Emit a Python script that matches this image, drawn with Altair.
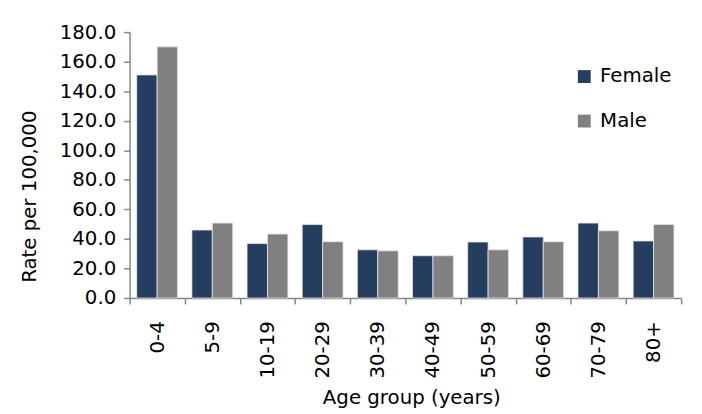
import altair as alt
import pandas as pd

age_groups = ["0-4", "5-9", "10-19", "20-29", "30-39", "40-49", "50-59", "60-69", "70-79", "80+"]
female = [151.0, 46.0, 36.8, 49.7, 32.6, 28.6, 37.9, 41.3, 50.7, 38.6]
male = [170.0, 50.7, 43.3, 38.1, 31.9, 28.6, 32.6, 38.1, 45.5, 49.7]
series = ["Female", "Male"]
colors = ["#253D5E", "#808080"]
y_ticks = [0, 20, 40, 60, 80, 100, 120, 140, 160, 180]

rows = []
for i, g in enumerate(age_groups):
    rows.append({"age": g, "sex": "Female", "rate": female[i]})
    rows.append({"age": g, "sex": "Male", "rate": male[i]})
df = pd.DataFrame(rows)

FONT = "DejaVu Sans"
AX = "#868686"

chart = alt.Chart(df).mark_bar(stroke="#e6e6e6", strokeWidth=0.8).encode(
    x=alt.X("age:N", sort=age_groups,
            scale=alt.Scale(paddingInner=0, paddingOuter=0),
            axis=alt.Axis(title="Age group (years)", labelAngle=-90, labelAlign="right",
                          labelBaseline="middle", labelPadding=17, tickSize=6,
                          tickBand="extent", titleY=107, titleBaseline="alphabetic",
                          titleX=285)),
    xOffset=alt.XOffset("sex:N", sort=series,
                        scale=alt.Scale(paddingOuter=0.35, paddingInner=0)),
    y=alt.Y("rate:Q", scale=alt.Scale(domain=[0, 180], nice=False),
            axis=alt.Axis(title="Rate per 100,000", values=y_ticks, format=".1f",
                          tickSize=6, labelPadding=8, grid=False,
                          titleX=-95, titleY=166, titleBaseline="alphabetic",
                          titleAngle=-90)),
    color=alt.Color("sex:N", sort=series,
                    scale=alt.Scale(domain=series, range=colors),
                    legend=alt.Legend(title=None, orient="none", legendX=450, legendY=35,
                                      symbolType="square", symbolSize=169,
                                      symbolStrokeWidth=0, labelOffset=6,
                                      rowPadding=25, labelFontSize=20, labelFont=FONT,
                                      labelColor="#000000")),
).properties(
    width=558, height=269,
    autosize=alt.AutoSizeParams(type="none"),
    padding={"left": 123, "top": 22, "right": 13, "bottom": 115},
    background="white",
).configure_axis(
    labelFont=FONT, titleFont=FONT, labelFontSize=20, titleFontSize=20,
    labelColor="#000000", titleColor="#000000", titleFontWeight="normal",
    domainColor=AX, tickColor=AX, domainWidth=1.5, tickWidth=1.5,
).configure_view(stroke=None)

chart.save("out.html", embed_options={"renderer": "svg", "actions": False})
